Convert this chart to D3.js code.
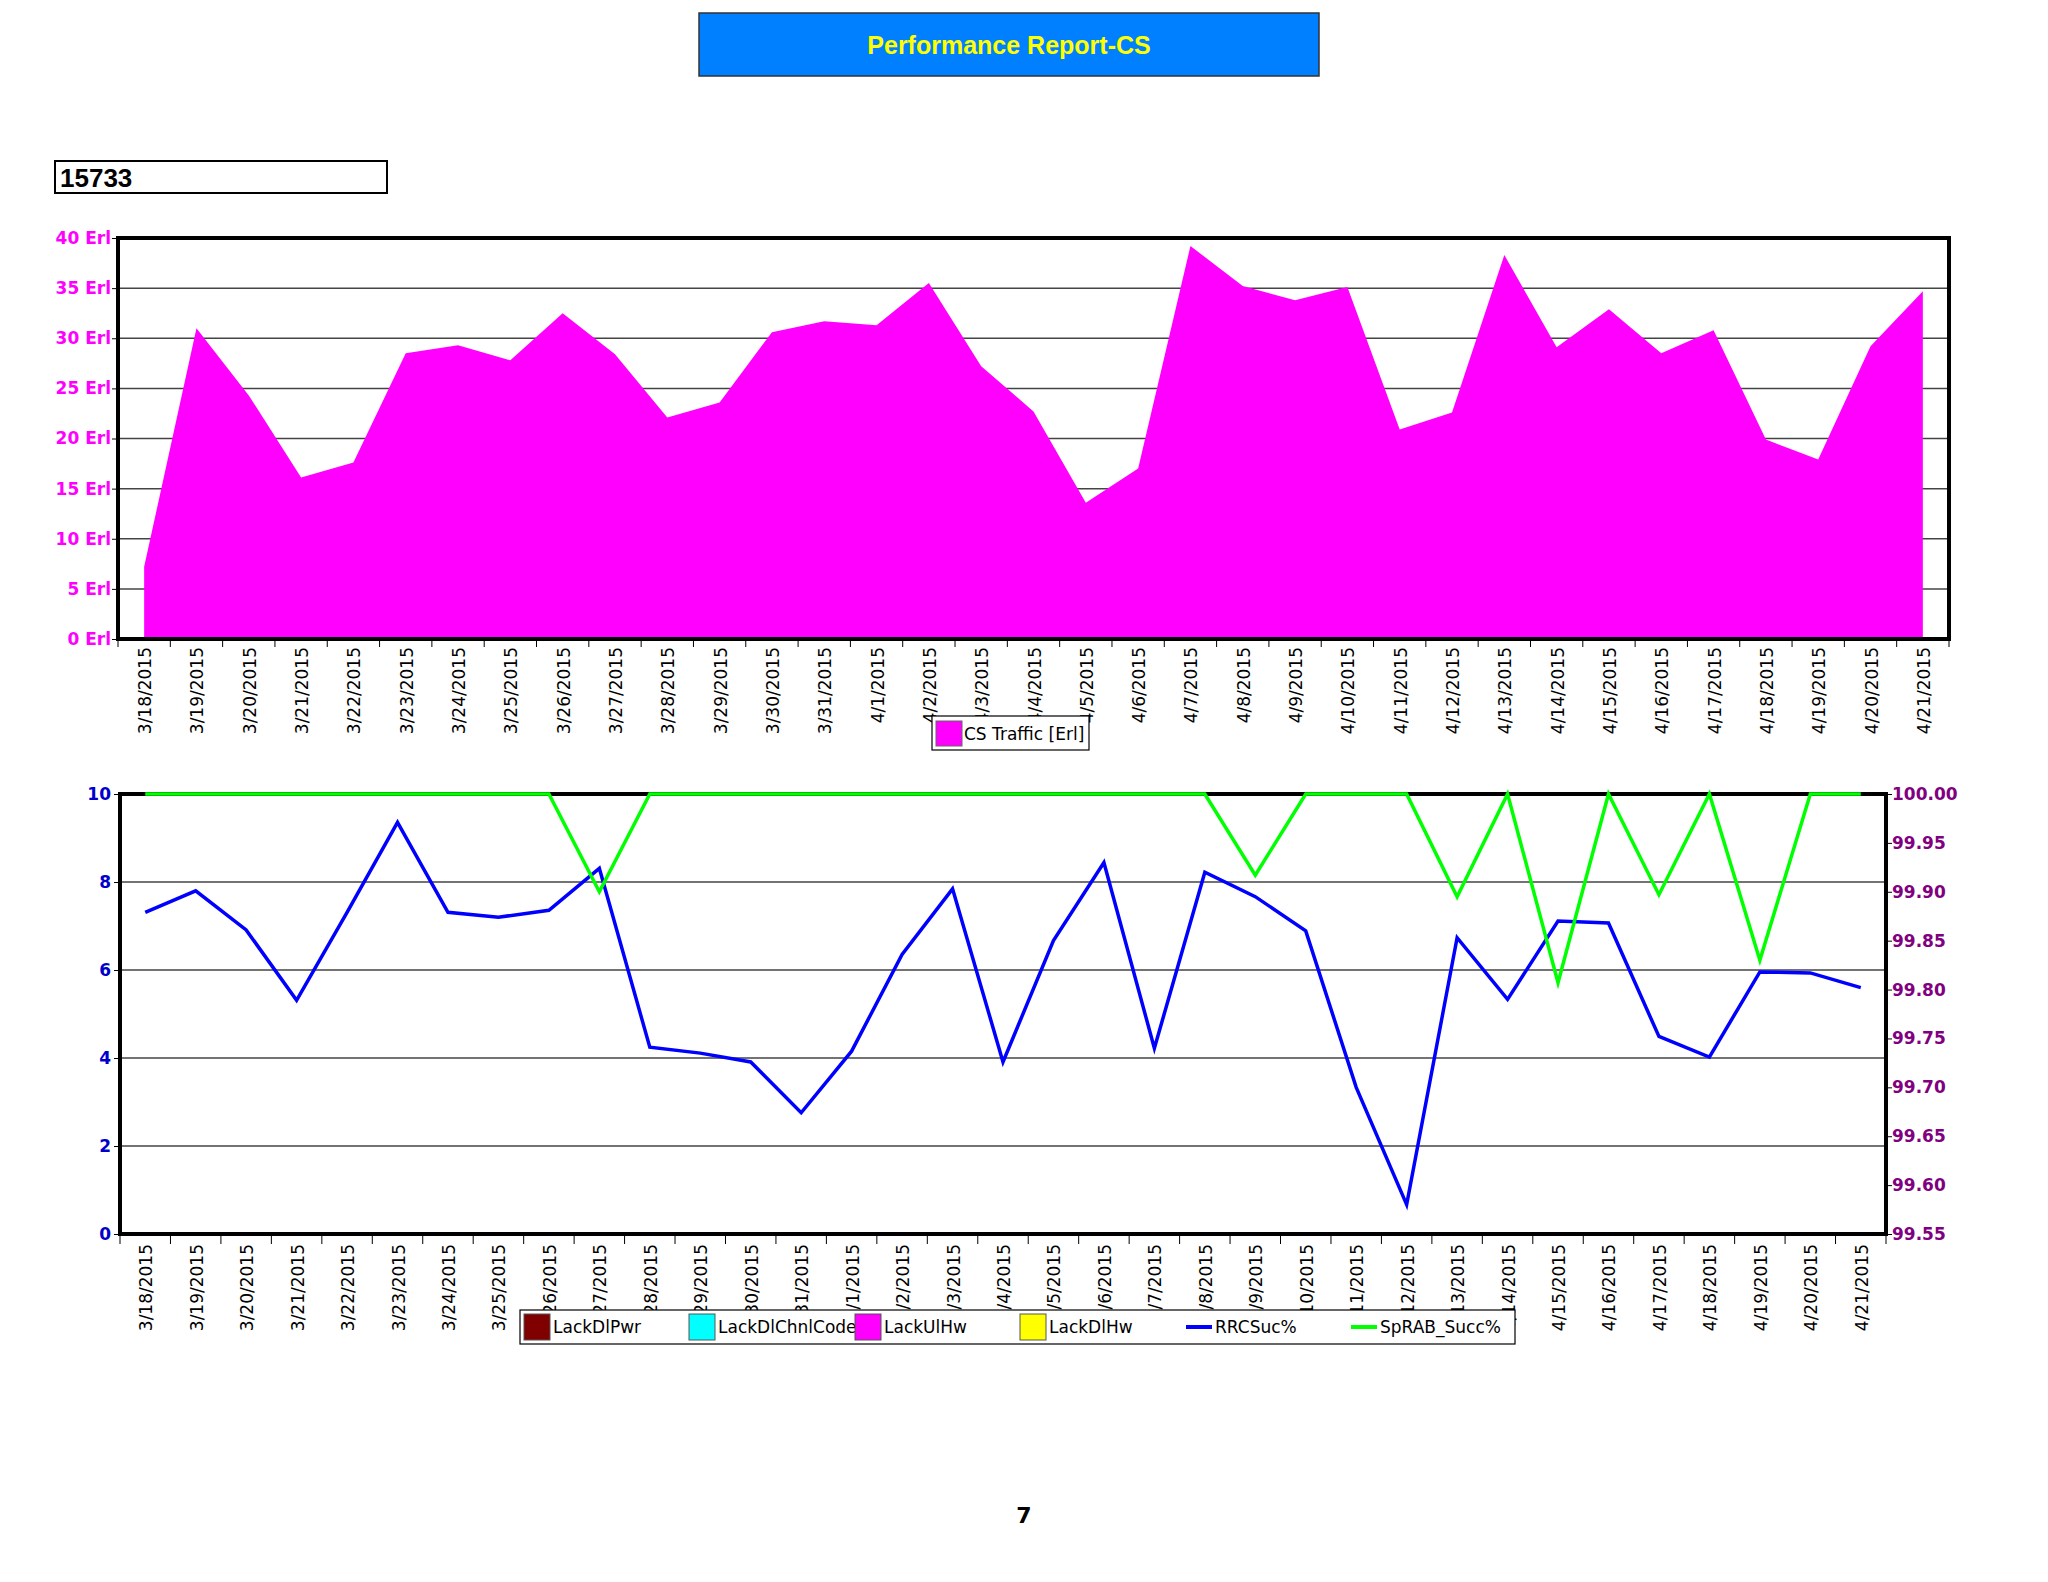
<!DOCTYPE html>
<html><head><meta charset="utf-8">
<script src="https://cdn.jsdelivr.net/npm/d3@7"></script>
<style>body{margin:0;background:#fff}svg{display:block}</style></head>
<body><svg id="c" width="2048" height="1582"></svg>
<script>
const dates=["3/18/2015","3/19/2015","3/20/2015","3/21/2015","3/22/2015","3/23/2015","3/24/2015","3/25/2015","3/26/2015","3/27/2015","3/28/2015","3/29/2015","3/30/2015","3/31/2015","4/1/2015","4/2/2015","4/3/2015","4/4/2015","4/5/2015","4/6/2015","4/7/2015","4/8/2015","4/9/2015","4/10/2015","4/11/2015","4/12/2015","4/13/2015","4/14/2015","4/15/2015","4/16/2015","4/17/2015","4/18/2015","4/19/2015","4/20/2015","4/21/2015"];
const csTraffic=[7.2,31,24.3,16.1,17.6,28.5,29.3,27.8,32.5,28.4,22.1,23.6,30.6,31.7,31.3,35.5,27.2,22.7,13.6,17.0,39.2,35.2,33.8,35.1,20.9,22.6,38.3,29.1,32.9,28.5,30.8,19.9,17.9,29.2,34.7];
const rrcSuc=[99.879,99.901,99.861,99.789,99.879,99.971,99.879,99.874,99.881,99.924,99.741,99.735,99.726,99.674,99.737,99.836,99.903,99.726,99.850,99.930,99.740,99.920,99.895,99.860,99.700,99.580,99.853,99.790,99.870,99.868,99.752,99.731,99.818,99.817,99.802];
const spRab=[100,100,100,100,100,100,100,100,100,99.900,100,100,100,100,100,100,100,100,100,100,100,100,99.917,100,100,100,99.895,100,99.807,100,99.897,100,99.830,100,100];
const topTicks=[0,5,10,15,20,25,30,35,40];
const leftTicks=[0,2,4,6,8,10];
const rightTicks=[99.55,99.60,99.65,99.70,99.75,99.80,99.85,99.90,99.95,100.00];
const legend2=[["LackDlPwr","#800000","box"],["LackDlChnlCode","#00ffff","box"],["LackUlHw","#ff00ff","box"],["LackDlHw","#ffff00","box"],["RRCSuc%","#0000ff","line"],["SpRAB_Succ%","#00ff00","line"]];

const svg=d3.select("#c");
const F="'DejaVu Sans', Verdana, sans-serif";
svg.append("rect").attr("x",699).attr("y",13).attr("width",620).attr("height",63).attr("fill","#0080ff").attr("stroke","#333").attr("stroke-width",1.5);
svg.append("text").attr("x",1009).attr("y",54).attr("text-anchor","middle").attr("font-family","Arial, 'Liberation Sans', sans-serif").attr("font-weight","bold").attr("font-size",25).attr("fill","#ffff00").text("Performance Report-CS");
svg.append("rect").attr("x",55).attr("y",161).attr("width",332).attr("height",32).attr("fill","#fff").attr("stroke","#000").attr("stroke-width",2);
svg.append("text").attr("x",60).attr("y",187).attr("font-family","'Liberation Sans Narrow', Arial, sans-serif").attr("font-weight","bold").attr("font-size",26).attr("fill","#000").text("15733");

// ---------- top chart ----------
const T={l:118,r:1949,t:238,b:639};
const x1=d3.scaleBand().domain(dates).range([T.l,T.r]);
const y1=d3.scaleLinear().domain([0,40]).range([T.b,T.t]);
const g1=svg.append("g");
g1.selectAll(".gl").data(topTicks.slice(1,-1)).join("line").attr("x1",T.l).attr("x2",T.r).attr("y1",d=>y1(d)).attr("y2",d=>y1(d)).attr("stroke","#444").attr("stroke-width",1.5);
g1.append("path").datum(csTraffic).attr("fill","#ff00ff").attr("d",d3.area().x((d,i)=>x1(dates[i])+x1.bandwidth()/2).y0(T.b).y1(d=>y1(d)));
g1.append("rect").attr("x",T.l).attr("y",T.t).attr("width",T.r-T.l).attr("height",T.b-T.t).attr("fill","none").attr("stroke","#000").attr("stroke-width",4);
const ya1=g1.append("g").attr("transform",`translate(${T.l},0)`).call(d3.axisLeft(y1).tickValues(topTicks).tickFormat(d=>d+" Erl").tickSize(6));
ya1.select(".domain").remove();
ya1.selectAll("text").attr("font-family",F).attr("font-weight","bold").attr("font-size",17).attr("fill","#ff00ff").attr("dx",2);
ya1.selectAll("line").attr("stroke","#000");
const xt1=g1.append("g").attr("transform",`translate(0,${T.b})`);
xt1.selectAll("line").data(d3.range(dates.length+1)).join("line").attr("x1",i=>T.l+i*x1.step()).attr("x2",i=>T.l+i*x1.step()).attr("y1",0).attr("y2",8).attr("stroke","#000");
xt1.selectAll("text").data(dates).join("text").attr("transform",d=>`translate(${x1(d)+x1.bandwidth()/2+7},8) rotate(-90)`).attr("text-anchor","end").attr("font-family",F).attr("font-size",17).attr("fill","#000").text(d=>d);
svg.append("rect").attr("x",932).attr("y",716).attr("width",157).attr("height",34).attr("fill","#fff").attr("stroke","#000").attr("stroke-width",1.2);
svg.append("rect").attr("x",936).attr("y",721).attr("width",26).attr("height",25).attr("fill","#ff00ff").attr("stroke","#666");
svg.append("text").attr("x",964).attr("y",740).attr("font-family",F).attr("font-size",17).attr("fill","#000").text("CS Traffic [Erl]");

// ---------- bottom chart ----------
const B={l:120,r:1886,t:794,b:1234};
const x2=d3.scaleBand().domain(dates).range([B.l,B.r]);
const yl=d3.scaleLinear().domain([0,10]).range([B.b,B.t]);
const yr=d3.scaleLinear().domain([99.55,100]).range([B.b,B.t]);
const g2=svg.append("g");
g2.selectAll(".gl").data(leftTicks.slice(1,-1)).join("line").attr("x1",B.l).attr("x2",B.r).attr("y1",d=>yl(d)).attr("y2",d=>yl(d)).attr("stroke","#444").attr("stroke-width",1.5);
g2.append("rect").attr("x",B.l).attr("y",B.t).attr("width",B.r-B.l).attr("height",B.b-B.t).attr("fill","none").attr("stroke","#000").attr("stroke-width",4);
const cx=(d,i)=>x2(dates[i])+x2.bandwidth()/2;
g2.append("path").datum(rrcSuc).attr("fill","none").attr("stroke","#0000ff").attr("stroke-width",3.5).attr("d",d3.line().x(cx).y(d=>yr(d)));
g2.append("path").datum(spRab).attr("fill","none").attr("stroke","#00ff00").attr("stroke-width",3.5).attr("d",d3.line().x(cx).y(d=>yr(d)));
const yla=g2.append("g").attr("transform",`translate(${B.l},0)`).call(d3.axisLeft(yl).tickValues(leftTicks).tickSize(6));
yla.select(".domain").remove();
yla.selectAll("text").attr("font-family",F).attr("font-weight","bold").attr("font-size",17).attr("fill","#0000cc");
yla.selectAll("line").attr("stroke","#000");
const yra=g2.append("g").attr("transform",`translate(${B.r},0)`).call(d3.axisRight(yr).tickValues(rightTicks).tickFormat(d3.format(".2f")).tickSize(6));
yra.select(".domain").remove();
yra.selectAll("text").attr("font-family",F).attr("font-weight","bold").attr("font-size",17).attr("fill","#800080").attr("dx",-3);
yra.selectAll("line").attr("stroke","#000");
const xt2=g2.append("g").attr("transform",`translate(0,${B.b})`);
xt2.selectAll("line").data(d3.range(dates.length+1)).join("line").attr("x1",i=>B.l+i*x2.step()).attr("x2",i=>B.l+i*x2.step()).attr("y1",0).attr("y2",10).attr("stroke","#000");
xt2.selectAll("text").data(dates).join("text").attr("transform",d=>`translate(${x2(d)+x2.bandwidth()/2+7},10) rotate(-90)`).attr("text-anchor","end").attr("font-family",F).attr("font-size",17).attr("fill","#000").text(d=>d);
svg.append("rect").attr("x",520).attr("y",1310).attr("width",995).attr("height",34).attr("fill","#fff").attr("stroke","#000").attr("stroke-width",1.2);
const lx=[524,689,855,1020,1186,1351];
legend2.forEach((d,i)=>{
  if(d[2]==="box") svg.append("rect").attr("x",lx[i]).attr("y",1314).attr("width",26).attr("height",26).attr("fill",d[1]).attr("stroke","#555");
  else svg.append("line").attr("x1",lx[i]).attr("x2",lx[i]+26).attr("y1",1327).attr("y2",1327).attr("stroke",d[1]).attr("stroke-width",4);
  svg.append("text").attr("x",lx[i]+29).attr("y",1333).attr("font-family",F).attr("font-size",17).attr("fill","#000").text(d[0]);
});
svg.append("text").attr("x",1024).attr("y",1523).attr("text-anchor","middle").attr("font-family",F).attr("font-weight","bold").attr("font-size",22).attr("fill","#000").text("7");
</script></body></html>
